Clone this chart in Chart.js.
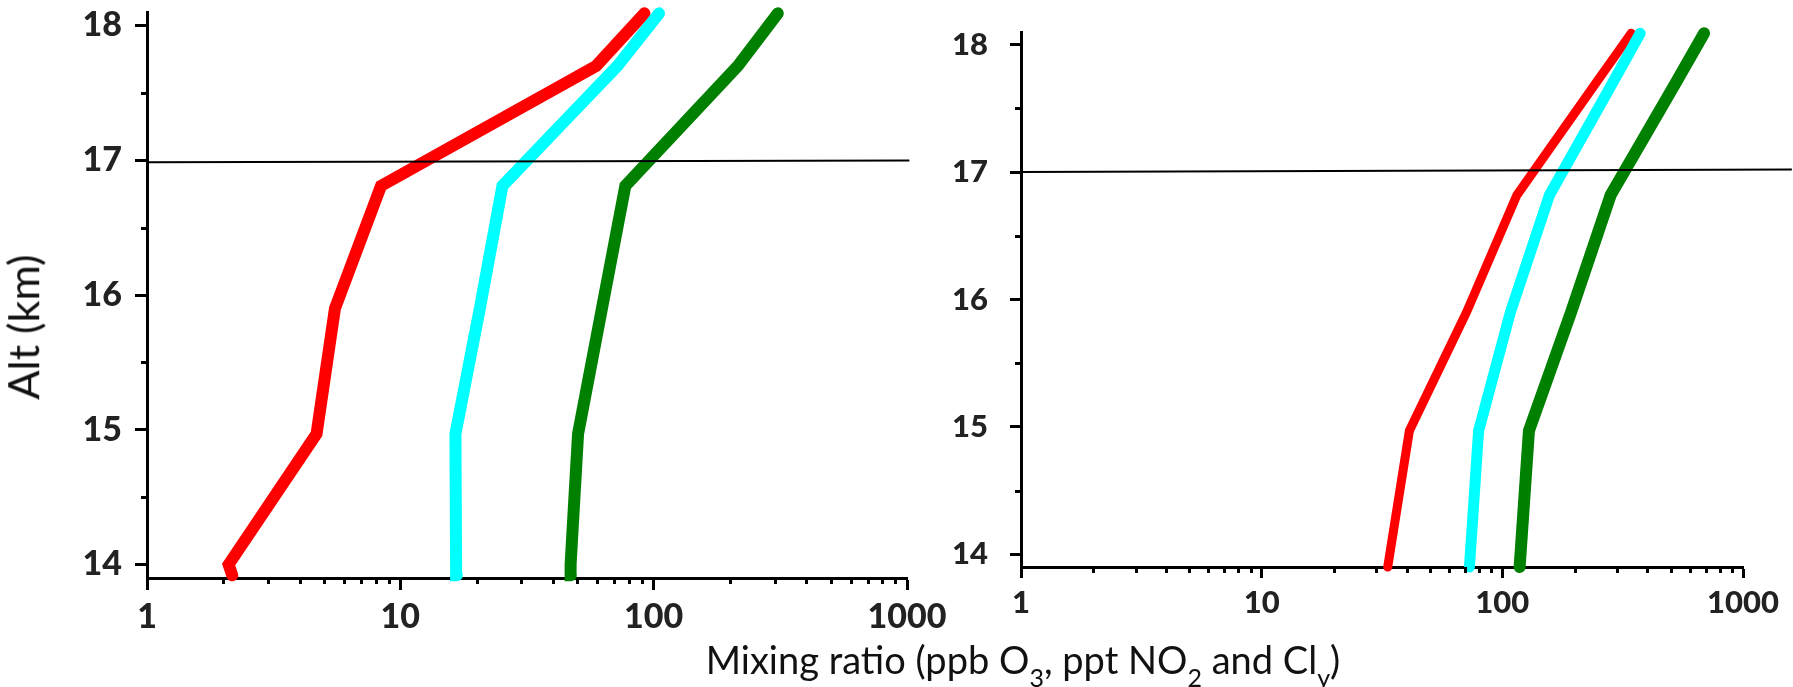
<!DOCTYPE html>
<html>
<head>
<meta charset="utf-8">
<title>Vertical profiles of O3, NO2 and Cly</title>
<script src="https://cdn.jsdelivr.net/npm/chart.js@4.4.1/dist/chart.umd.min.js"></script>
<style>
  html, body { margin: 0; padding: 0; background: #fff; }
  body { width: 1793px; height: 687px; position: relative; overflow: hidden; font-family: Lato, sans-serif; }
  canvas { position: absolute; top: 0; }
  #left { left: 0; }
  #right { left: 900px; }
  #ytitle {
    position: absolute; left: 23px; top: 327px;
    transform: translate(-50%, -50%) rotate(-90deg);
    font-size: 43px; line-height: 1.2; white-space: nowrap; color: #111;
  }
  #xtitle {
    position: absolute; left: 1023px; top: 635px; transform: translateX(-50%);
    font-size: 38px; line-height: 48px; white-space: nowrap; color: #111;
  }
  #xtitle sub { font-size: 25px; line-height: 0; vertical-align: -13px; }
</style>
</head>
<body>
<canvas id="left" width="960" height="687"></canvas>
<canvas id="right" width="893" height="687"></canvas>
<div id="ytitle">Alt (km)</div>
<div id="xtitle">Mixing ratio (ppb O<sub>3</sub>, ppt NO<sub>2</sub> and Cl<sub>y</sub>)</div>
<script>
// ---- profile data: altitude (km) and mixing ratios ----
// left panel
const altLeft = [13.92, 14.0, 14.97, 15.9, 16.81, 17.7, 18.09];
const o3Left  = [2.17, 2.1, 4.67, 5.52, 8.39, 59.3, 92];
const no2Left = [16.7, 16.6, 16.5, 20.6, 25.3, 72, 105];
const clyLeft = [47.1, 47, 50.3, 62.5, 77.3, 215, 309];

// right panel
const altRight = [13.9, 14.97, 15.9, 16.82, 17.7, 18.09];
const o3Right  = [33.4, 41.1, 71, 115, 245, 343];
const no2Right = [73, 79.7, 108, 157, 287, 374];
const clyRight = [118, 129, 193, 282, 525, 689];

// tropopause reference line (x extent, altitude at each end)
const tropoLeftX = [1, 1022];
const tropoLeftAlt = [16.985, 16.998];
const tropoRightX = [1, 1596];
const tropoRightAlt = [17.0, 17.02];

// axis ticks
const xTickValues = [1, 10, 100, 1000];
const yTickValues = [14, 15, 16, 17, 18];
const xMinorFactors = [2, 3, 4, 5, 6, 7, 8, 9];
const yMinorValues = [14.5, 15.5, 16.5, 17.5];

const xRange = [1, 1000];
const yRange = [13.9, 18.1];

const pts = (xs, ys) => xs.map((v, i) => ({ x: v, y: ys[i] }));

// short minor tick marks on both axes
const minorTicks = {
  id: 'minorTicks',
  afterDraw(chart, args, opts) {
    const { ctx, chartArea: a, scales: { x, y } } = chart;
    ctx.save();
    ctx.strokeStyle = '#000';
    ctx.lineWidth = 3;
    ctx.beginPath();
    xTickValues.slice(0, -1).forEach(d => {
      xMinorFactors.forEach(k => {
        const px = Math.round(x.getPixelForValue(k * d)) + 0.5;
        ctx.moveTo(px, a.bottom);
        ctx.lineTo(px, a.bottom + opts.length);
      });
    });
    yMinorValues.forEach(v => {
      const py = Math.round(y.getPixelForValue(v)) + 0.5;
      ctx.moveTo(a.left - opts.length, py);
      ctx.lineTo(a.left, py);
    });
    ctx.stroke();
    ctx.restore();
  }
};

function panel(id, p) {
  const profile = (vals, alt, color, w) => ({
    data: pts(vals, alt), borderColor: color, borderWidth: w,
    borderCapStyle: 'round', borderJoinStyle: 'miter',
    pointRadius: 0, fill: false, tension: 0, clip: false
  });
  const tickFont = { family: 'Lato', weight: '900', size: p.fontSize };
  return new Chart(document.getElementById(id), {
    type: 'line',
    data: {
      datasets: [
        { data: pts(p.tropoX, p.tropoAlt), borderColor: '#000', borderWidth: 2,
          pointRadius: 0, fill: false, clip: false },
        profile(p.cly, p.alt, '#008000', p.widths[2]),
        profile(p.no2, p.alt, '#00FFFF', p.widths[1]),
        profile(p.o3, p.alt, '#FF0000', p.widths[0])
      ]
    },
    options: {
      responsive: false,
      animation: false,
      events: [],
      layout: { padding: p.padding },
      plugins: { legend: { display: false }, tooltip: { enabled: false },
                 minorTicks: { length: 6 } },
      scales: {
        x: {
          type: 'logarithmic', min: xRange[0], max: xRange[1],
          afterBuildTicks: s => { s.ticks = xTickValues.map(v => ({ value: v })); },
          afterFit: s => { s.height = p.xHeight; s.paddingLeft = 0; s.paddingRight = 0; },
          grid: { drawOnChartArea: false, drawTicks: true, tickLength: p.tickLen,
                  tickWidth: 3, tickColor: '#000', color: '#000' },
          border: { display: true, color: '#000', width: 3 },
          ticks: { font: tickFont, color: '#222', padding: p.xPad, maxRotation: 0,
                   autoSkip: false, callback: v => String(v) }
        },
        y: {
          type: 'linear', min: yRange[0], max: yRange[1],
          afterBuildTicks: s => { s.ticks = yTickValues.map(v => ({ value: v })); },
          afterFit: s => { s.width = p.yWidth; s.paddingTop = 0; s.paddingBottom = 0; },
          grid: { drawOnChartArea: false, drawTicks: true, tickLength: p.tickLen,
                  tickWidth: 3, tickColor: '#000', color: '#000' },
          border: { display: true, color: '#000', width: 3 },
          ticks: { font: tickFont, color: '#222', padding: p.yPad,
                   autoSkip: false, callback: v => String(v) }
        }
      }
    },
    plugins: [minorTicks]
  });
}

panel('left', {
  alt: altLeft, o3: o3Left, no2: no2Left, cly: clyLeft,
  tropoX: tropoLeftX, tropoAlt: tropoLeftAlt,
  widths: [12, 12, 12], fontSize: 34, tickLen: 12,
  padding: { left: 0, top: 12, right: 53, bottom: 0 },
  yWidth: 147, xHeight: 109, xPad: 7, yPad: 13
});

panel('right', {
  alt: altRight, o3: o3Right, no2: no2Right, cly: clyRight,
  tropoX: tropoRightX, tropoAlt: tropoRightAlt,
  widths: [9, 11, 12], fontSize: 31, tickLen: 11,
  padding: { left: 0, top: 32, right: 50, bottom: 0 },
  yWidth: 121, xHeight: 120, xPad: 6, yPad: 22
});
</script>
</body>
</html>
